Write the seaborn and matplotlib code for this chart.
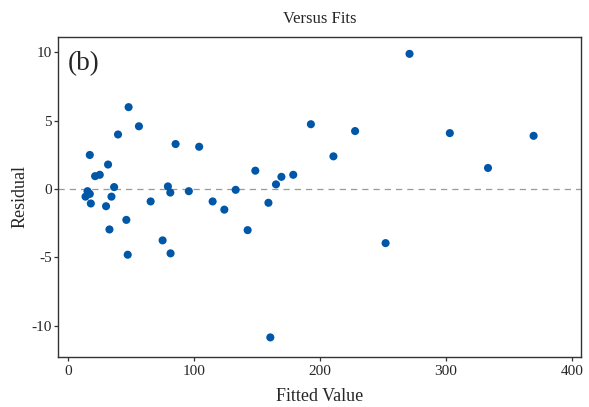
import numpy as np
import pandas as pd
import matplotlib
matplotlib.use("Agg")
import matplotlib.pyplot as plt
import seaborn as sns

# Fitted values and residuals
fitted = [13.8, 15.4, 17.2, 18.0, 17.2, 21.4, 25.1, 31.7, 30.1, 32.8,
          34.4, 36.5, 39.6, 46.2, 47.3, 48.0, 56.2, 65.5, 75.0, 79.2,
          81.1, 81.3, 85.3, 95.8, 104.0, 114.7, 124.0, 133.0, 142.5, 148.6,
          159.0, 160.5, 165.0, 169.3, 178.7, 192.7, 210.6, 227.8, 252.0, 271.0,
          303.0, 333.3, 369.5]
residual = [-0.55, -0.15, -0.35, -1.05, 2.5, 0.95, 1.05, 1.8, -1.25, -2.95,
            -0.55, 0.15, 4.0, -2.25, -4.8, 6.0, 4.6, -0.9, -3.75, 0.2,
            -0.25, -4.7, 3.3, -0.15, 3.1, -0.9, -1.5, -0.05, -3.0, 1.35,
            -1.0, -10.85, 0.35, 0.9, 1.05, 4.75, 2.4, 4.25, -3.95, 9.9,
            4.1, 1.55, 3.9]

df = pd.DataFrame({"Fitted Value": fitted, "Residual": residual})

sns.set_style("ticks")
plt.rcParams["font.family"] = ["Liberation Serif", "DejaVu Serif"]
plt.rcParams["axes.unicode_minus"] = False

fig = plt.figure(figsize=(5.89, 4.07), dpi=100)
ax = fig.add_axes([0.099, 0.124, 0.888, 0.786])

sns.scatterplot(data=df, x="Fitted Value", y="Residual", ax=ax,
                color="#0057A8", s=34, edgecolor="none", linewidth=0)
ax.axhline(0, color="#999999", linestyle=(0, (5, 4)), linewidth=0.9, zorder=0)

ax.set_xlim(-7.8, 407.4)
ax.set_ylim(-12.25, 11.16)
ax.set_xticks([0, 100, 200, 300, 400])
ax.set_yticks([-10, -5, 0, 5, 10])
ax.tick_params(labelsize=11, length=3, width=0.9, color="#333333")
ax.tick_params(axis="y", pad=1.5)
ax.tick_params(axis="x", pad=3)
for side in ax.spines.values():
    side.set_color("#333333")
    side.set_linewidth(1.0)

ax.set_xlabel("Fitted Value", fontsize=13, labelpad=7)
ax.set_ylabel("Residual", fontsize=13, labelpad=2)
ax.set_title("Versus Fits", fontsize=12, pad=10)
ax.text(0.018, 0.955, "(b)", transform=ax.transAxes, fontsize=19.5,
        va="top", ha="left")

fig.savefig("out.png", dpi=100)
